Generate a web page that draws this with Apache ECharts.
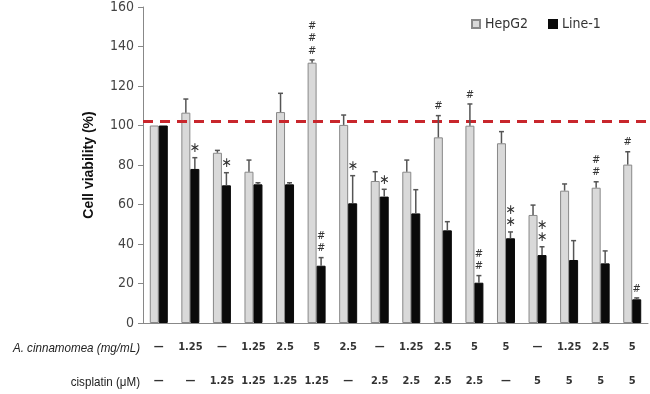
<!DOCTYPE html>
<html>
<head>
<meta charset="utf-8">
<script src="https://cdn.jsdelivr.net/npm/echarts@6/dist/echarts.min.js"></script>
<style>
  html, body { margin: 0; padding: 0; background: #fff; }
  #main { width: 650px; height: 394px; }
</style>
</head>
<body>
<div id="main"></div>
<script>
// treatment rows of the table under the chart
var cinnamomea = ['—', '1.25', '—', '1.25', '2.5', '5', '2.5', '—', '1.25', '2.5', '5', '5', '—', '1.25', '2.5', '5'];
var cisplatin = ['—', '—', '1.25', '1.25', '1.25', '1.25', '—', '2.5', '2.5', '2.5', '2.5', '—', '5', '5', '5', '5'];
var groups = cinnamomea.map(function (v, i) { return 'g' + i; });

// cell viability (%) and top of error bar
var hepg2 = [100, 106.5, 86.2, 76.6, 106.8, 131.8, 100.3, 71.9, 76.6, 94, 99.9, 91, 54.7, 67, 68.5, 80.2];
var hepg2Err = [100, 113.4, 87.4, 82.5, 116.3, 133.2, 105.3, 76.6, 82.5, 105, 110.9, 96.9, 59.7, 70.4, 71.5, 86.7];
var line1 = [100, 78, 69.7, 70.2, 70.2, 29, 60.6, 64, 55.5, 46.9, 20.4, 42.9, 34.4, 31.9, 30.2, 12];
var line1Err = [100, 83.7, 76.1, 71, 71, 33.1, 74.6, 67.7, 67.5, 51.3, 24, 46.1, 38.6, 41.7, 36.5, 12.7];

// significance marks
var hepg2Marks = ['', '', '', '', '', '###', '', '', '', '#', '#', '', '', '', '##', '#'];
var line1Marks = ['', '*', '*', '', '', '##', '*', '*', '', '', '##', '**', '**', '', '', '#'];

var refLine = 102;

var chart = echarts.init(document.getElementById('main'));
var narrow = "'DejaVu Sans Condensed', 'Liberation Sans Narrow', 'Liberation Sans', sans-serif";
var BW = 9;

function errorSeries(name, err, vals, marks, shift) {
  return {
    type: 'custom',
    name: name + ' err',
    z: 5,
    data: err.map(function (e, i) { return [i, vals[i], e]; }),
    renderItem: function (params, api) {
      var base = api.coord([api.value(0), api.value(1)]);
      var top = api.coord([api.value(0), api.value(2)]);
      var x = base[0] + shift;
      var children = [];
      if (api.value(2) > api.value(1) + 0.1) {
        children.push({ type: 'line', shape: { x1: x, y1: base[1], x2: x, y2: top[1] },
          style: { stroke: '#555', lineWidth: 1.5 } });
        children.push({ type: 'line', shape: { x1: x - 2.5, y1: top[1], x2: x + 2.5, y2: top[1] },
          style: { stroke: '#555', lineWidth: 1.5 } });
      }
      var m = marks[params.dataIndex];
      if (m) {
        var star = m.charAt(0) === '*';
        var txt = m.split('').map(function () { return star ? '∗' : '#'; }).join('\n');
        children.push({ type: 'text', x: x, y: top[1] - 3,
          style: { text: txt, fill: '#333', font: (star ? '14px ' : '11px ') + narrow,
            align: 'center', verticalAlign: 'bottom', lineHeight: 12.5 } });
      }
      return { type: 'group', children: children };
    }
  };
}

var tableLabel = { interval: 0, margin: 7, fontFamily: narrow, fontWeight: 'bold', fontSize: 11, color: '#333' };

var option = {
  animation: false,
  grid: { left: 143, right: 2, top: 7, bottom: 71 },
  legend: {
    top: 12, left: 466, itemWidth: 8, itemHeight: 8, itemGap: 20, icon: 'rect',
    textStyle: { fontFamily: narrow, fontSize: 14, color: '#333' },
    data: ['HepG2', 'Line-1']
  },
  xAxis: [
    { type: 'category', data: groups,
      axisLine: { lineStyle: { color: '#888' } },
      axisTick: { length: 5, lineStyle: { color: '#888' } },
      axisLabel: { show: false } },
    { type: 'category', data: cinnamomea, position: 'bottom', offset: 12,
      axisLine: { show: false }, axisTick: { show: false }, axisLabel: tableLabel },
    { type: 'category', data: cisplatin, position: 'bottom', offset: 46,
      axisLine: { show: false }, axisTick: { show: false }, axisLabel: tableLabel }
  ],
  yAxis: {
    type: 'value', min: 0, max: 160, interval: 20,
    name: 'Cell viability (%)', nameLocation: 'middle', nameGap: 47, nameRotate: 90,
    nameTextStyle: { fontFamily: 'Liberation Sans, sans-serif', fontWeight: 'bold', fontSize: 14, color: '#111' },
    axisLine: { show: true, lineStyle: { color: '#888' } },
    axisTick: { show: true, length: 5, lineStyle: { color: '#888' } },
    splitLine: { show: false },
    axisLabel: { margin: 9, fontFamily: narrow, fontSize: 14, color: '#444' }
  },
  series: [
    { type: 'bar', name: 'HepG2', data: hepg2, barWidth: BW, barGap: '0%',
      itemStyle: { color: '#d9d9d9', borderColor: '#888', borderWidth: 1 },
      markLine: { silent: true, symbol: 'none', label: { show: false },
        lineStyle: { color: '#c8262c', width: 3, type: [10, 7] },
        data: [{ yAxis: refLine }] } },
    { type: 'bar', name: 'Line-1', data: line1, barWidth: BW, barGap: '0%',
      itemStyle: { color: '#0a0a0a', borderColor: '#0a0a0a', borderWidth: 1 } },
    errorSeries('HepG2', hepg2Err, hepg2, hepg2Marks, -BW / 2),
    errorSeries('Line-1', line1Err, line1, line1Marks, BW / 2)
  ],
  graphic: [
    { type: 'text', x: 140, y: 348, scaleX: 0.86,
      style: { text: 'A. cinnamomea (mg/mL)', font: 'italic 13.5px Liberation Sans, sans-serif', fill: '#222',
        align: 'right', verticalAlign: 'middle' } },
    { type: 'text', x: 140, y: 382, scaleX: 0.86,
      style: { text: 'cisplatin (μM)', font: '13.5px Liberation Sans, sans-serif', fill: '#222',
        align: 'right', verticalAlign: 'middle' } }
  ]
};
chart.setOption(option);
</script>
</body>
</html>
